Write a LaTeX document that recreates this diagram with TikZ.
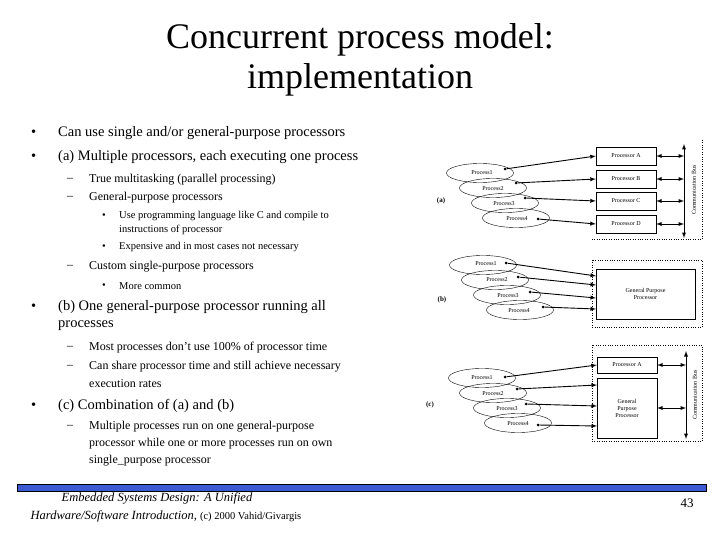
\documentclass[tikz,border=0pt]{standalone}
\usepackage{fontspec}
\setmainfont{Liberation Serif}
\usetikzlibrary{shapes.geometric}
\definecolor{barblue}{RGB}{60,90,210}
\begin{document}
\begin{tikzpicture}[x=1pt,y=-1pt,
  t/.style={anchor=west,inner sep=0pt},
  l1/.style={t,font=\fontsize{14.5}{16}\selectfont},
  l2/.style={t,font=\fontsize{12}{14}\selectfont},
  l3/.style={t,font=\fontsize{10.5}{12}\selectfont},
  proc/.style={draw,ellipse,minimum width=67pt,minimum height=19pt,inner sep=0pt},
  ptxt/.style={font=\fontsize{6}{7}\selectfont,inner sep=0pt},
  box/.style={draw,inner sep=0pt,font=\fontsize{6}{7}\selectfont,align=center},
  dot/.style={circle,fill,inner sep=0pt,minimum size=3pt},
  arr/.style={-latex,line width=0.9pt},
  barr/.style={latex-latex,line width=0.9pt},
  dbox/.style={dotted}]
\useasboundingbox (0,0) rectangle (720,540);
% title
\node[font=\fontsize{36}{40}\selectfont] (title1) at (360,40) {Concurrent process model:};
\node[font=\fontsize{36}{40}\selectfont] (title2) at (360,80) {implementation};
% left text
\node[l1] (b1) at (31,133) {•}; \node[l1] (t1) at (58,133) {Can use single and/or general-purpose processors};
\node[l1] (b2) at (31,157) {•}; \node[l1] (t2) at (58,157) {(a) Multiple processors, each executing one process};
\node[l2] (d3) at (67,180) {–}; \node[l2] (t3) at (89,180) {True multitasking (parallel processing)};
\node[l2] (d4) at (67,198) {–}; \node[l2] (t4) at (89,198) {General-purpose processors};
\node[l3] (d5) at (102,216) {•}; \node[l3] (t5) at (119,216) {Use programming language like C and compile to};
\node[l3] (t6) at (119,230) {instructions of processor};
\node[l3] (d7) at (102,247) {•}; \node[l3] (t7) at (119,247) {Expensive and in most cases not necessary};
\node[l2] (d8) at (67,267) {–}; \node[l2] (t8) at (89,267) {Custom single-purpose processors};
\node[l3] (d9) at (102,286) {•}; \node[l3] (t9) at (119,286) {More common};
\node[l1] (b3) at (31,307) {•}; \node[l1] (t10) at (58,307) {(b) One general-purpose processor running all};
\node[l1] (t11) at (58,326) {processes};
\node[l2] (d12) at (67,348) {–}; \node[l2] (t12) at (89,348) {Most processes don't use 100\% of processor time};
\node[l2] (d13) at (67,367) {–}; \node[l2] (t13) at (89,367) {Can share processor time and still achieve necessary};
\node[l2] (t14) at (89,384) {execution rates};
\node[l1] (b4) at (31,406) {•}; \node[l1] (t15) at (58,406) {(c) Combination of (a) and (b)};
\node[l2] (d16) at (67,427) {–}; \node[l2] (t16) at (89,427) {Multiple processes run on one general-purpose};
\node[l2] (t17) at (89,444) {processor while one or more processes run on own};
\node[l2] (t18) at (89,461) {single\_purpose processor};
% footer
\draw[fill=barblue] (17,484) rectangle (706,491);
\node[font=\fontsize{12.5}{14}\selectfont\itshape] (f1) at (157,498) {Embedded Systems Design: A Unified};
\node[font=\fontsize{12.5}{14}\selectfont] (f2) at (166,516) {\itshape Hardware/Software Introduction, \upshape\fontsize{10.5}{12}\selectfont(c) 2000 Vahid/Givargis};
\node[font=\fontsize{13}{14}\selectfont] (pg) at (687,503) {43};
% ---------- (a)
\node[font=\fontsize{7}{8}\selectfont\bfseries] (la) at (441,201) {(a)};
\draw[dbox] (592,239) -- (702,239) -- (702,140);
\foreach \n/\cx/\cy in {1/480/173,2/493/188,3/505/203,4/516/218}
  \node[proc] (ea\n) at (\cx,\cy) {};
\foreach \n/\cx/\cy in {1/482/173,2/493/189,3/504/204,4/517/219}
  \node[ptxt] (pa\n) at (\cx,\cy) {Process\n};
\node[dot] (da1) at (505,169) {}; \node[dot] (da2) at (516,183) {};
\node[dot] (da3) at (525,198) {}; \node[dot] (da4) at (538,219) {};
\node[box,minimum width=60pt,minimum height=18pt] (pA) at (626,156) {Processor A};
\node[box,minimum width=60pt,minimum height=18pt] (pB) at (626,179) {Processor B};
\node[box,minimum width=60pt,minimum height=18pt] (pC) at (626,201) {Processor C};
\node[box,minimum width=60pt,minimum height=18pt] (pD) at (626,224) {Processor D};
\draw[arr] (da1) -- (pA.west); \draw[arr] (da2) -- (pB.west);
\draw[arr] (da3) -- (pC.west); \draw[arr] (da4) -- (pD.west);
\coordinate (busAt) at (684,144); \coordinate (busAb) at (684,238);
\draw[barr] (busAt) -- (busAb);
\foreach \p in {A,B,C,D} \draw[barr] (p\p.east) -- (p\p.east -| busAt);
\node[ptxt,rotate=90] (busAl) at (694,190) {Communication Bus};
% ---------- (b)
\node[font=\fontsize{7}{8}\selectfont\bfseries] (lb) at (442,300) {(b)};
\draw[dbox] (592,260) rectangle (702,327);
\foreach \n/\cx/\cy in {1/483/265,2/495/280,3/507/295,4/520/310}
  \node[proc] (eb\n) at (\cx,\cy) {};
\foreach \n/\cx/\cy in {1/486/264,2/497/280,3/508/296,4/519/311}
  \node[ptxt] (pb\n) at (\cx,\cy) {Process\n};
\node[dot] (db1) at (506,263) {}; \node[dot] (db2) at (518,277) {};
\node[dot] (db3) at (530,292) {}; \node[dot] (db4) at (543,307) {};
\node[box,minimum width=99pt,minimum height=50pt] (gpb) at (645.5,294) {General Purpose\\Processor};
\coordinate (gb1) at (596,276); \coordinate (gb2) at (596,285);
\coordinate (gb3) at (596,298); \coordinate (gb4) at (596,309);
\foreach \n in {1,2,3,4} \draw[arr] (db\n) -- (gb\n);
% ---------- (c)
\node[font=\fontsize{7}{8}\selectfont\bfseries] (lc) at (430,405) {(c)};
\draw[dbox] (592,345) rectangle (702,441);
\foreach \n/\cx/\cy in {1/482/378,2/493/393,3/507/408,4/518/423}
  \node[proc] (ec\n) at (\cx,\cy) {};
\foreach \n/\cx/\cy in {1/482/378,2/493/394,3/507/409,4/518/424}
  \node[ptxt] (pc\n) at (\cx,\cy) {Process\n};
\node[dot] (dc1) at (505,377) {}; \node[dot] (dc2) at (517,389) {};
\node[dot] (dc3) at (526,404) {}; \node[dot] (dc4) at (538,425) {};
\node[box,minimum width=60pt,minimum height=16pt] (cA) at (627,365) {Processor A};
\node[box,minimum width=60pt,minimum height=60pt] (gpc) at (627,408) {General\\Purpose\\Processor};
\coordinate (gc2) at (597,385); \coordinate (gc3) at (597,406); \coordinate (gc4) at (597,426);
\draw[arr] (dc1) -- (cA.west);
\foreach \n in {2,3,4} \draw[arr] (dc\n) -- (gc\n);
\coordinate (busCt) at (686,351); \coordinate (busCb) at (686,439);
\draw[barr] (busCt) -- (busCb);
\draw[barr] (cA.east) -- (cA.east -| busCt);
\draw[barr] (gpc.east) -- (gpc.east -| busCt);
\node[ptxt,rotate=90] (busCl) at (695,395) {Communication Bus};
\end{tikzpicture}
\end{document}
